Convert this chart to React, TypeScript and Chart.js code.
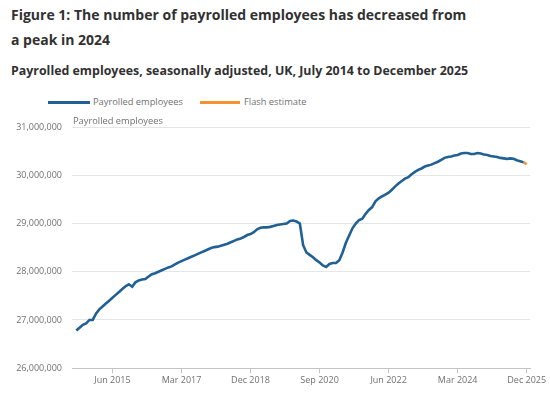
import React, { useEffect, useRef } from "react";
import { Chart, registerables } from "chart.js";

Chart.register(...registerables);

const START_YEAR = 2014;
const START_MONTH = 6; // July
const MONTH_NAMES = ["Jan", "Feb", "Mar", "Apr", "May", "Jun", "Jul", "Aug", "Sep", "Oct", "Nov", "Dec"];

// Payrolled employees, millions, July 2014 .. December 2025 (monthly)
const PAYROLLED_MILLIONS = [
  26.78, 26.84, 26.9, 26.93, 27.0, 27.0, 27.13, 27.22, 27.28, 27.34, 27.4, 27.46,
  27.52, 27.58, 27.64, 27.7, 27.74, 27.69, 27.78, 27.82, 27.84, 27.85, 27.9, 27.95,
  27.97, 28.0, 28.03, 28.06, 28.09, 28.11, 28.15, 28.19, 28.22, 28.25, 28.28, 28.31,
  28.34, 28.37, 28.4, 28.43, 28.46, 28.49, 28.51, 28.52, 28.54, 28.56, 28.58, 28.61,
  28.64, 28.67, 28.69, 28.72, 28.76, 28.78, 28.82, 28.88, 28.91, 28.92, 28.92, 28.93,
  28.95, 28.97, 28.98, 28.99, 29.0, 29.05, 29.06, 29.04, 29.0, 28.55, 28.4, 28.35,
  28.3, 28.24, 28.19, 28.13, 28.1, 28.16, 28.18, 28.18, 28.24, 28.4, 28.6, 28.75,
  28.9, 29.0, 29.07, 29.1, 29.2, 29.28, 29.34, 29.46, 29.52, 29.56, 29.6, 29.64,
  29.7, 29.77, 29.83, 29.88, 29.93, 29.96, 30.02, 30.07, 30.11, 30.14, 30.18, 30.2,
  30.22, 30.25, 30.28, 30.32, 30.36, 30.38, 30.39, 30.41, 30.42, 30.45, 30.46, 30.46,
  30.44, 30.44, 30.46, 30.45, 30.43, 30.42, 30.4, 30.39, 30.38, 30.36, 30.35, 30.34,
  30.35, 30.34, 30.31, 30.29, 30.27, 30.23,
];

const FLASH_START_INDEX = 136; // Nov 2025 -> Dec 2025 is the flash estimate
const X_TICK_INDEX = [11, 32, 53, 74, 95, 116, 137];
const Y_MIN = 26000000;
const Y_MAX = 31000000;
const Y_STEP = 1000000;

const SERIES_NAME = "Payrolled employees";
const FLASH_NAME = "Flash estimate";
const TITLE_LINE_1 = "Figure 1: The number of payrolled employees has decreased from";
const TITLE_LINE_2 = "a peak in 2024";
const SUBTITLE = "Payrolled employees, seasonally adjusted, UK, July 2014 to December 2025";
const AXIS_TITLE = "Payrolled employees";

const BLUE = "#206095";
const ORANGE = "#f39431";
const GREY_TEXT = "#707071";
const TITLE_COLOR = "#323132";
const FONT = '"Open Sans", sans-serif';

const MONTH_LABELS = PAYROLLED_MILLIONS.map((_, i) => {
  const m = START_MONTH + i;
  return `${MONTH_NAMES[m % 12]} ${START_YEAR + Math.floor(m / 12)}`;
});

const axisTitlePlugin = {
  id: "axisTitle",
  afterDraw(chart: any) {
    const { ctx, chartArea } = chart;
    ctx.save();
    ctx.font = `9.3px ${FONT}`;
    ctx.fillStyle = GREY_TEXT;
    ctx.textBaseline = "middle";
    ctx.textAlign = "left";
    ctx.fillText(AXIS_TITLE, chartArea.left + 1, chartArea.top - 6);
    ctx.restore();
  },
};

function PayrollChart() {
  const ref = useRef<HTMLCanvasElement | null>(null);
  useEffect(() => {
    if (!ref.current) return;
    const points = PAYROLLED_MILLIONS.map((v, i) => ({ x: i, y: Math.round(v * 1e6) }));
    const main = points.filter((p) => p.x <= FLASH_START_INDEX);
    const flash = points.filter((p) => p.x >= FLASH_START_INDEX);
    const chart = new Chart(ref.current, {
      type: "line",
      data: {
        datasets: [
          {
            label: SERIES_NAME,
            data: main,
            borderColor: BLUE,
            borderWidth: 2.6,
            pointRadius: 0,
            tension: 0,
          },
          {
            label: FLASH_NAME,
            data: flash,
            borderColor: ORANGE,
            borderWidth: 2.6,
            pointRadius: 0,
            tension: 0,
          },
        ],
      },
      options: {
        animation: false,
        responsive: false,
        maintainAspectRatio: false,
        layout: { padding: { top: 17, right: 20, bottom: 7, left: 0 } },
        plugins: { legend: { display: false }, tooltip: { enabled: false } },
        scales: {
          x: {
            type: "linear",
            min: -1.3,
            max: 138,
            afterBuildTicks: (scale: any) => {
              scale.ticks = X_TICK_INDEX.map((value) => ({ value }));
            },
            ticks: {
              autoSkip: false,
              maxRotation: 0,
              padding: 2,
              color: GREY_TEXT,
              font: { family: FONT, size: 9 },
              callback: (value: any) => MONTH_LABELS[Number(value)] ?? "",
            },
            grid: {
              display: true,
              drawOnChartArea: false,
              drawTicks: true,
              tickLength: 5,
              color: "#c4c4c4",
            },
            border: { display: true, color: "#c4c4c4" },
          },
          y: {
            min: Y_MIN,
            max: Y_MAX,
            afterFit: (scale: any) => {
              scale.width = 72;
            },
            ticks: {
              stepSize: Y_STEP,
              padding: 10,
              color: GREY_TEXT,
              font: { family: FONT, size: 9 },
              callback: (value: any) => Number(value).toLocaleString("en-GB"),
            },
            grid: { color: "#e6e6e6", drawTicks: false },
            border: { display: false },
          },
        },
      },
      plugins: [axisTitlePlugin],
    });
    return () => chart.destroy();
  }, []);
  return (
    <canvas
      ref={ref}
      width={550}
      height={285}
      style={{ position: "absolute", left: 0, top: 110, width: 550, height: 285 }}
    />
  );
}

export default function App() {
  const legendText: React.CSSProperties = {
    position: "absolute",
    top: 94,
    lineHeight: "16px",
    fontSize: 9.3,
    color: GREY_TEXT,
    fontFamily: FONT,
    whiteSpace: "nowrap",
  };
  const legendLine = (left: number, width: number, color: string): React.CSSProperties => ({
    position: "absolute",
    left,
    top: 101,
    width,
    height: 3,
    background: color,
  });
  return (
    <div
      style={{
        position: "fixed",
        left: 0,
        top: 0,
        width: 550,
        height: 395,
        background: "#ffffff",
        fontFamily: FONT,
        overflow: "hidden",
      }}
    >
      <div
        style={{
          position: "absolute",
          left: 11,
          top: 2,
          fontSize: 14,
          lineHeight: "25px",
          fontWeight: 700,
          color: TITLE_COLOR,
          whiteSpace: "nowrap",
        }}
      >
        <div>{TITLE_LINE_1}</div>
        <div>{TITLE_LINE_2}</div>
      </div>
      <div
        style={{
          position: "absolute",
          left: 11,
          top: 61,
          fontSize: 12.4,
          lineHeight: "20px",
          fontWeight: 700,
          color: TITLE_COLOR,
          whiteSpace: "nowrap",
        }}
      >
        {SUBTITLE}
      </div>
      <div style={legendLine(48, 42, BLUE)} />
      <div style={{ ...legendText, left: 93 }}>{SERIES_NAME}</div>
      <div style={legendLine(200, 40, ORANGE)} />
      <div style={{ ...legendText, left: 244 }}>{FLASH_NAME}</div>
      <PayrollChart />
    </div>
  );
}
